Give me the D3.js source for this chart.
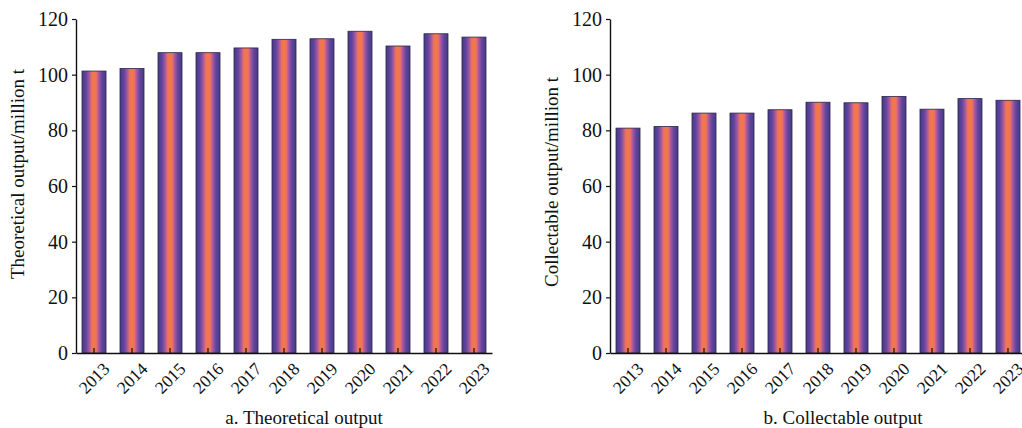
<!DOCTYPE html>
<html><head><meta charset="utf-8">
<script src="https://cdn.jsdelivr.net/npm/d3@7"></script>
<style>
html,body{margin:0;padding:0;background:#fff;}
svg{display:block;}
text{font-family:"Liberation Serif","Times New Roman",serif;fill:#111;}
</style>
</head><body>
<svg id="chart" width="1022" height="428"></svg>
<script>
const years = ["2013","2014","2015","2016","2017","2018","2019","2020","2021","2022","2023"];
const theoretical = [101.3,102.2,107.9,107.9,109.6,112.7,112.9,115.6,110.3,114.7,113.5];
const collectable = [80.8,81.4,86.2,86.2,87.4,90.1,89.9,92.2,87.6,91.4,90.8];
const yTicks = [0,20,40,60,80,100,120];
const panels = [
  {values: theoretical, yTitle: "Theoretical output/million t", caption: "a. Theoretical output"},
  {values: collectable, yTitle: "Collectable output/million t", caption: "b. Collectable output"}
];

const svg = d3.select("#chart");
const defs = svg.append("defs");
const grad = defs.append("linearGradient").attr("id","barGrad")
  .attr("x1","0").attr("x2","1").attr("y1","0").attr("y2","0");
[[0,"#4a3a8a"],[0.16,"#5e449c"],[0.3,"#a458a0"],[0.4,"#ea6f68"],[0.5,"#f57b3b"],
 [0.6,"#ea6f68"],[0.7,"#a458a0"],[0.84,"#5e449c"],[1,"#4a3a8a"]]
 .forEach(([o,c])=>grad.append("stop").attr("offset",o).attr("stop-color",c));

const layout = [
  {x0:76, x1:492, titleX:24, titleY:174, capX:304},
  {x0:610, x1:1026, titleX:558, titleY:182, capX:843}
];
const yTop = 19, yBot = 353;

panels.forEach((p,i)=>{
  const L = layout[i];
  const x = d3.scaleBand().domain(years).range([L.x0, L.x1]).paddingInner(0.368).paddingOuter(0.158);
  const y = d3.scaleLinear().domain([0,120]).range([yBot, yTop]);
  const g = svg.append("g");

  g.selectAll("rect.bar").data(p.values).join("rect").attr("class","bar")
    .attr("x",(d,j)=>x(years[j])).attr("width",x.bandwidth())
    .attr("y",d=>y(d)).attr("height",d=>y(0)-y(d))
    .attr("fill","url(#barGrad)").attr("stroke","#2c2646").attr("stroke-width",0.8);

  const ya = g.append("g").attr("transform",`translate(${L.x0},0)`)
    .call(d3.axisLeft(y).tickValues(yTicks).tickSizeInner(4).tickSizeOuter(0).tickPadding(4));
  ya.selectAll("text").style("font-size","20px");

  const xa = g.append("g").attr("transform",`translate(0,${yBot})`)
    .call(d3.axisBottom(x).tickSizeInner(-5).tickSizeOuter(0));
  xa.selectAll("text")
    .style("font-size","17.5px")
    .attr("text-anchor","middle")
    .attr("y",0).attr("dy","0.35em")
    .attr("transform","translate(0,25) rotate(-45)");

  [ya,xa].forEach(a=>{
    a.select(".domain").attr("stroke","#111").attr("stroke-width",1.4);
    a.selectAll(".tick line").attr("stroke","#111").attr("stroke-width",1.2);
  });

  g.append("text").attr("transform",`translate(${L.titleX},${L.titleY}) rotate(-90)`)
    .attr("text-anchor","middle").style("font-size","19px").text(p.yTitle);
  g.append("text").attr("x",L.capX).attr("y",424)
    .attr("text-anchor","middle").style("font-size","19px").text(p.caption);
});
</script>
</body></html>
